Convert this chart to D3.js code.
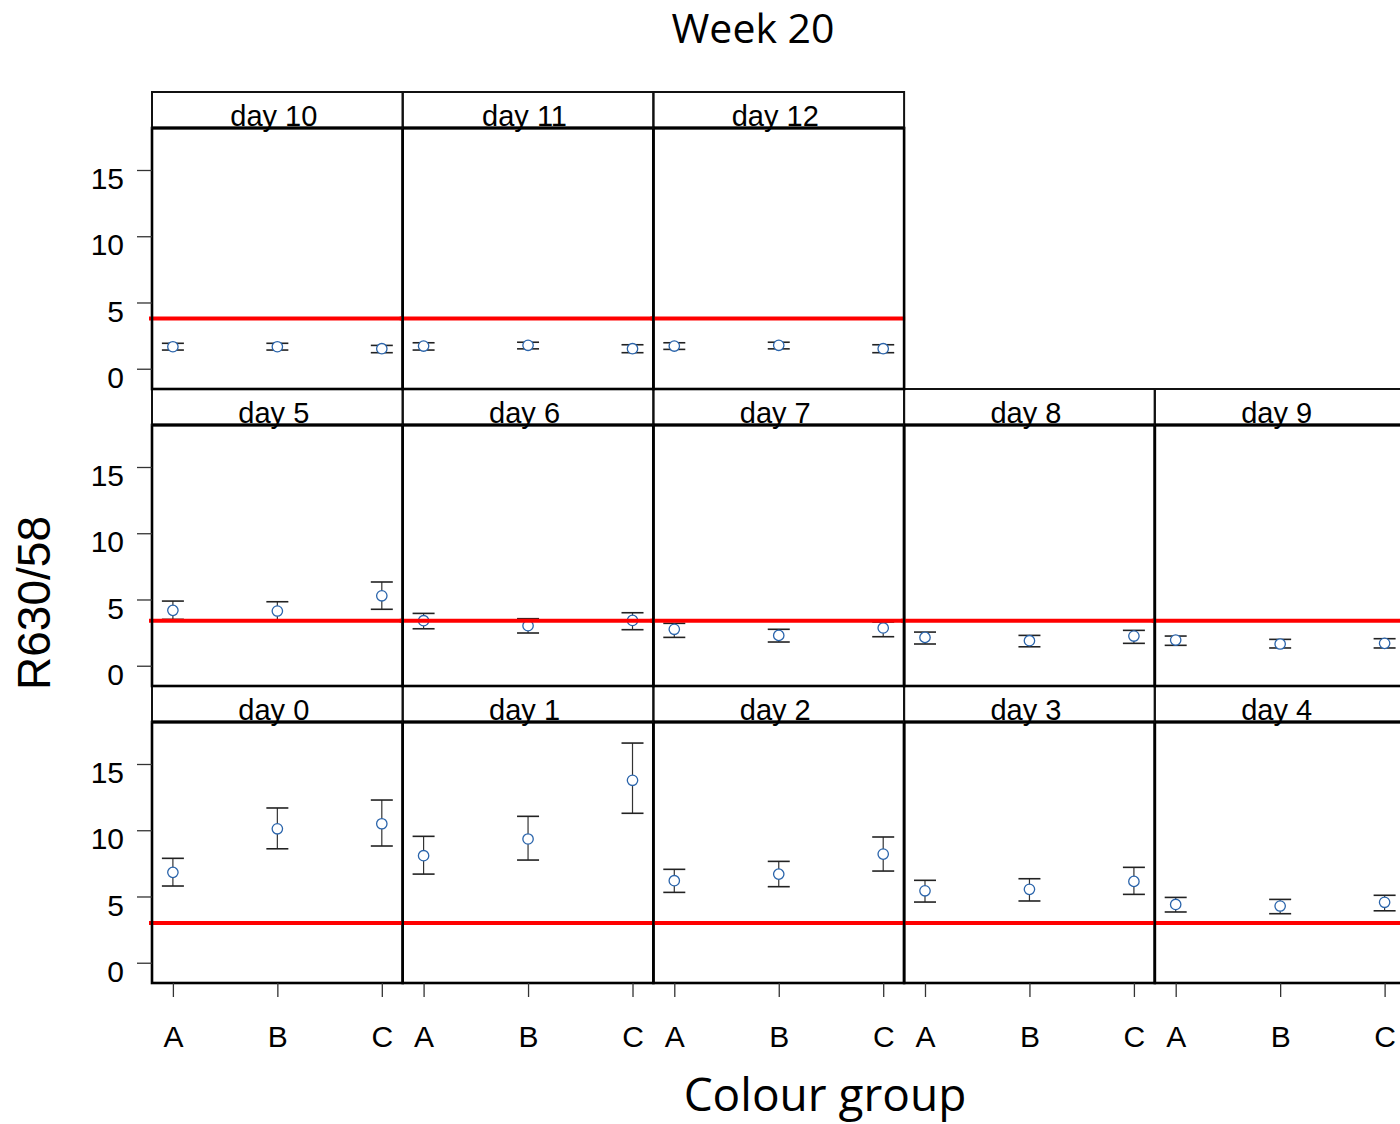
<!DOCTYPE html>
<html>
<head>
<meta charset="utf-8">
<script src="https://cdn.jsdelivr.net/npm/d3@7"></script>
<style>
  body { margin: 0; background: #fff; }
  svg text { font-family: "Liberation Sans", Arial, sans-serif; fill: #000; }
</style>
</head>
<body>
<svg id="chart" width="1400" height="1124"></svg>
<script>
// data
var days = ['day 0', 'day 1', 'day 2', 'day 3', 'day 4',
            'day 5', 'day 6', 'day 7', 'day 8', 'day 9',
            'day 10', 'day 11', 'day 12'];
var groups = ['A', 'B', 'C'];
var means = [
  [6.82, 10.11, 10.49], [8.08, 9.34, 13.77], [6.19, 6.69, 8.2], [5.43, 5.54, 6.14], [4.4, 4.28, 4.56],
  [4.18, 4.13, 5.28], [3.4, 3.02, 3.42], [2.75, 2.29, 2.85], [2.14, 1.89, 2.24], [1.94, 1.64, 1.69],
  [1.66, 1.66, 1.51], [1.71, 1.77, 1.51], [1.71, 1.77, 1.51]
];
var lower = [
  [5.79, 8.6, 8.81], [6.69, 7.75, 11.28], [5.31, 5.74, 6.92], [4.58, 4.66, 5.16], [3.83, 3.7, 3.92],
  [3.5, 3.45, 4.26], [2.79, 2.47, 2.72], [2.14, 1.79, 2.19], [1.64, 1.43, 1.69], [1.54, 1.34, 1.34],
  [1.41, 1.41, 1.21], [1.41, 1.5, 1.21], [1.46, 1.5, 1.21]
];
var upper = [
  [7.88, 11.68, 12.28], [9.54, 11.05, 16.58], [7.05, 7.65, 9.49], [6.22, 6.34, 7.2], [4.93, 4.78, 5.09],
  [4.88, 4.83, 6.32], [3.95, 3.55, 4.0], [3.2, 2.75, 3.3], [2.54, 2.29, 2.67], [2.24, 1.99, 2.04],
  [1.92, 1.92, 1.76], [1.96, 2.0, 1.81], [1.96, 2.0, 1.81]
];
// red reference line, one per row (bottom, middle, top)
var refLine = [3.0, 3.4, 3.8];
var yTicks = [0, 5, 10, 15];

var svg = d3.select('#chart');
var left = 152, panelW = 250.7, stripH = 36, panelH = 261;
var rowTop = [686, 389, 92]; // strip top of each row
var perRow = 5;

var x = d3.scalePoint().domain(groups).range([0, panelW]).padding(0.2);
var y = d3.scaleLinear().domain([-1.53, 18.17]).range([panelH, 0]);

// title and axis labels
svg.append('text')
  .attr('x', 753).attr('y', 43)
  .attr('text-anchor', 'middle')
  .style('font-family', '"Open Sans", sans-serif')
  .style('font-size', '41px')
  .text('Week 20');

svg.append('text')
  .attr('x', 825).attr('y', 1111)
  .attr('text-anchor', 'middle')
  .style('font-family', '"Open Sans", sans-serif')
  .style('font-size', '46px')
  .text('Colour group');

svg.append('text')
  .attr('transform', 'translate(50,603) rotate(-90)')
  .attr('text-anchor', 'middle')
  .style('font-size', '46px')
  .text('R630/58');

days.forEach(function(day, i) {
  var row = Math.floor(i / perRow);
  var col = i % perRow;
  var x0 = left + col * panelW;
  var sTop = rowTop[row];
  var pTop = sTop + stripH;

  var g = svg.append('g').attr('transform', 'translate(' + x0 + ',' + pTop + ')');

  var pts = groups.map(function(gr, k) {
    return { g: gr, m: means[i][k], lo: lower[i][k], hi: upper[i][k] };
  });

  // error bars
  var bars = g.selectAll('g.bar').data(pts).enter().append('g').attr('class', 'bar');
  bars.append('line')
    .attr('x1', function(d) { return x(d.g); })
    .attr('x2', function(d) { return x(d.g); })
    .attr('y1', function(d) { return y(d.lo); })
    .attr('y2', function(d) { return y(d.hi); })
    .attr('stroke', '#333').attr('stroke-width', 1.2);
  ['lo', 'hi'].forEach(function(k) {
    bars.append('line')
      .attr('x1', function(d) { return x(d.g) - 11; })
      .attr('x2', function(d) { return x(d.g) + 11; })
      .attr('y1', function(d) { return y(d[k]); })
      .attr('y2', function(d) { return y(d[k]); })
      .attr('stroke', '#222').attr('stroke-width', 1.6);
  });
  bars.append('circle')
    .attr('cx', function(d) { return x(d.g); })
    .attr('cy', function(d) { return y(d.m); })
    .attr('r', 5.2)
    .attr('fill', '#fff')
    .attr('stroke', '#2a64ab').attr('stroke-width', 1.3);

  // reference line
  g.append('line')
    .attr('x1', -3).attr('x2', panelW + 1)
    .attr('y1', y(refLine[row])).attr('y2', y(refLine[row]))
    .attr('stroke', '#ff0000').attr('stroke-width', 4);

  // panel box
  g.append('rect')
    .attr('width', panelW).attr('height', panelH)
    .attr('fill', 'none').attr('stroke', '#000').attr('stroke-width', 2.6);

  // strip
  svg.append('rect')
    .attr('x', x0).attr('y', sTop)
    .attr('width', panelW).attr('height', stripH)
    .attr('fill', 'none').attr('stroke', '#111').attr('stroke-width', 2);
  svg.append('line')
    .attr('x1', x0).attr('x2', x0 + panelW)
    .attr('y1', pTop).attr('y2', pTop)
    .attr('stroke', '#000').attr('stroke-width', 3);
  svg.append('text')
    .attr('x', x0 + panelW / 2 - 3.5).attr('y', pTop - 2)
    .attr('text-anchor', 'middle')
    .style('font-size', '29px')
    .text(day);

  // y axis on left column
  if (col === 0) {
    var ya = g.append('g')
      .call(d3.axisLeft(y).tickValues(yTicks).tickSize(15).tickPadding(13).tickSizeOuter(0));
    ya.select('.domain').remove();
    ya.selectAll('line').attr('stroke', '#333').attr('stroke-width', 1.3);
    ya.selectAll('text').style('font-size', '30px').attr('dy', '0.62em');
  }

  // x axis on bottom row
  if (row === 0) {
    var xa = g.append('g')
      .attr('transform', 'translate(0,' + panelH + ')')
      .call(d3.axisBottom(x).tickSize(14).tickPadding(50).tickSizeOuter(0));
    xa.select('.domain').remove();
    xa.selectAll('line').attr('stroke', '#333').attr('stroke-width', 1.3);
    xa.selectAll('text').style('font-size', '30px').attr('dy', '0');
  }
});
</script>
</body>
</html>
